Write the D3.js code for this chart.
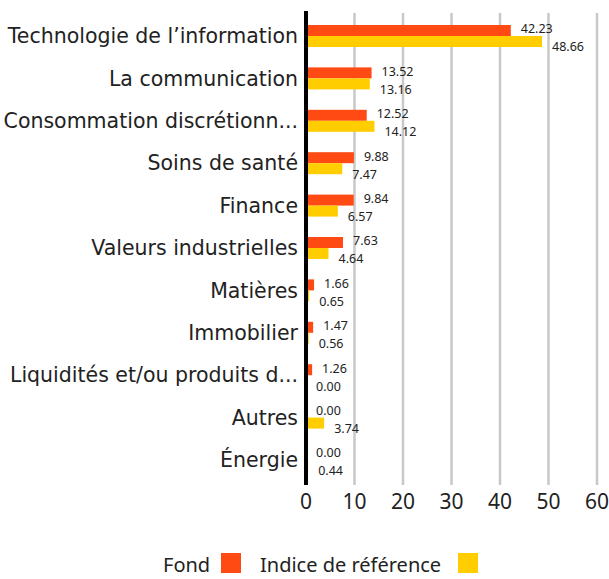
<!DOCTYPE html>
<html>
<head>
<meta charset="utf-8">
<script src="https://cdn.jsdelivr.net/npm/d3@7"></script>
<style>
  body { margin: 0; background: #fff; }
  text { font-family: "Noto Sans", sans-serif; fill: #222; }
  .grid line { stroke: #c8c8c8; stroke-width: 2.5; }
</style>
</head>
<body>
<div id="chart"></div>
<script>
const categories = [
    "Technologie de l\u2019information",
    "La communication",
    "Consommation discrétionn...",
    "Soins de santé",
    "Finance",
    "Valeurs industrielles",
    "Matières",
    "Immobilier",
    "Liquidités et/ou produits d...",
    "Autres",
    "Énergie"
];
const fundValues = [42.23, 13.52, 12.52, 9.88, 9.84, 7.63, 1.66, 1.47, 1.26, 0.00, 0.00];
const benchValues = [48.66, 13.16, 14.12, 7.47, 6.57, 4.64, 0.65, 0.56, 0.00, 3.74, 0.44];
const xTicks = [0, 10, 20, 30, 40, 50, 60];
const seriesNames = ["Fond", "Indice de référence"];
const colors = ["#ff4a14", "#ffcd00"];

const W = 609, H = 579;
const svg = d3.select('#chart').append('svg')
    .attr('width', W)
    .attr('height', H);

const x = d3.scaleLinear().domain([0, 60]).range([306, 597]);
const y = d3.scaleBand().domain(categories).range([14.8, 481.2]);
const barH = 11;

// gridlines
svg.append('g').attr('class', 'grid')
    .selectAll('line')
    .data(xTicks.slice(1))
    .enter().append('line')
    .attr('x1', d => x(d)).attr('x2', d => x(d))
    .attr('y1', 13).attr('y2', 485);

const rows = categories.map((c, i) => ({cat: c, fund: fundValues[i], bench: benchValues[i]}));

const g = svg.append('g').selectAll('g')
    .data(rows)
    .enter().append('g')
    .attr('transform', d => 'translate(0,' + (y(d.cat) + y.bandwidth() / 2) + ')');

g.append('rect')
    .attr('x', x(0))
    .attr('y', -barH)
    .attr('width', d => x(d.fund) - x(0))
    .attr('height', barH)
    .attr('fill', colors[0]);
g.append('rect')
    .attr('x', x(0))
    .attr('y', 0)
    .attr('width', d => x(d.bench) - x(0))
    .attr('height', barH)
    .attr('fill', colors[1]);

g.append('text')
    .attr('x', d => x(d.fund) + 10)
    .attr('y', -7)
    .attr('dy', '0.35em')
    .style('font-size', '12.5px')
    .text(d => d.fund.toFixed(2));
g.append('text')
    .attr('x', d => x(d.bench) + 10)
    .attr('y', 11)
    .attr('dy', '0.35em')
    .style('font-size', '12.5px')
    .text(d => d.bench.toFixed(2));

// category labels
g.append('text')
    .attr('x', 298)
    .attr('y', 0)
    .attr('dy', '0.35em')
    .attr('text-anchor', 'end')
    .style('font-family', '"DejaVu Sans", sans-serif')
    .style('font-size', '20.5px')
    .text(d => d.cat);

// axis line
svg.append('line')
    .attr('x1', x(0)).attr('x2', x(0))
    .attr('y1', 11).attr('y2', 485)
    .attr('stroke', '#000')
    .attr('stroke-width', 4);

// x tick labels
svg.append('g').selectAll('text')
    .data(xTicks)
    .enter().append('text')
    .attr('x', d => x(d))
    .attr('y', 502)
    .attr('dy', '0.35em')
    .attr('text-anchor', 'middle')
    .style('font-size', '21px')
    .text(d => d);

// legend
const legend = svg.append('g');
legend.append('text').attr('x', 163).attr('y', 572).style('font-size', '20px').text(seriesNames[0]);
legend.append('rect').attr('x', 221).attr('y', 553).attr('width', 20).attr('height', 20).attr('fill', colors[0]);
legend.append('text').attr('x', 260).attr('y', 572).style('font-size', '20px').text(seriesNames[1]);
legend.append('rect').attr('x', 458).attr('y', 553).attr('width', 20).attr('height', 20).attr('fill', colors[1]);
</script>
</body>
</html>
